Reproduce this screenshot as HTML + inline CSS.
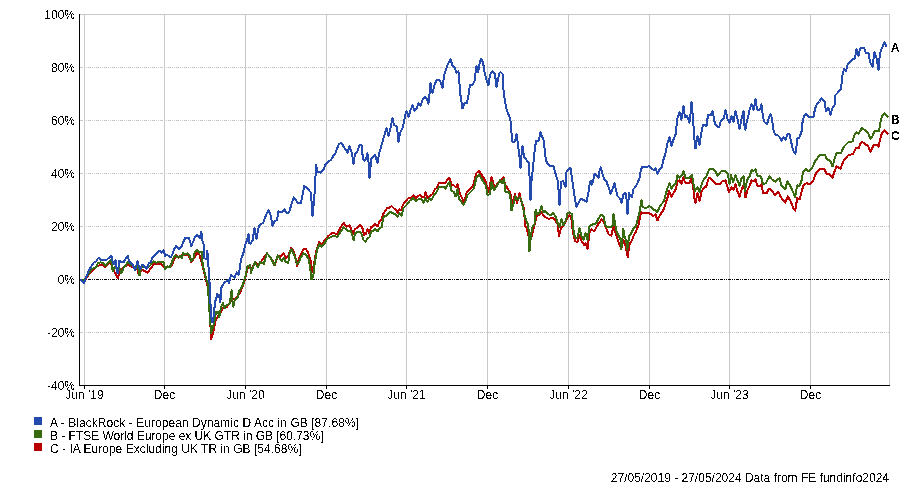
<!DOCTYPE html>
<html><head><meta charset="utf-8"><style>
html,body{margin:0;padding:0;background:#fff;width:900px;height:484px;overflow:hidden;}
svg{display:block;font-family:"Liberation Sans", sans-serif;}
</style></head><body>
<svg width="900" height="484" viewBox="0 0 900 484">
<g shape-rendering="crispEdges">
<line x1="84.5" y1="14" x2="84.5" y2="385" stroke="#c8c8c8" stroke-width="1"/>
<line x1="164.5" y1="14" x2="164.5" y2="385" stroke="#c8c8c8" stroke-width="1"/>
<line x1="245.5" y1="14" x2="245.5" y2="385" stroke="#c8c8c8" stroke-width="1"/>
<line x1="326.5" y1="14" x2="326.5" y2="385" stroke="#c8c8c8" stroke-width="1"/>
<line x1="406.5" y1="14" x2="406.5" y2="385" stroke="#c8c8c8" stroke-width="1"/>
<line x1="487.5" y1="14" x2="487.5" y2="385" stroke="#c8c8c8" stroke-width="1"/>
<line x1="568.5" y1="14" x2="568.5" y2="385" stroke="#c8c8c8" stroke-width="1"/>
<line x1="649.5" y1="14" x2="649.5" y2="385" stroke="#c8c8c8" stroke-width="1"/>
<line x1="729.5" y1="14" x2="729.5" y2="385" stroke="#c8c8c8" stroke-width="1"/>
<line x1="810.5" y1="14" x2="810.5" y2="385" stroke="#c8c8c8" stroke-width="1"/>
<line x1="80" y1="14.5" x2="890" y2="14.5" stroke="#c8c8c8"/>
<line x1="889.5" y1="14" x2="889.5" y2="385" stroke="#c8c8c8"/>
<line x1="80" y1="67.5" x2="889" y2="67.5" stroke="#c8c8c8" stroke-dasharray="3 1 1 1 1 1"/>
<line x1="80" y1="120.5" x2="889" y2="120.5" stroke="#c8c8c8" stroke-dasharray="3 1 1 1 1 1"/>
<line x1="80" y1="173.5" x2="889" y2="173.5" stroke="#c8c8c8" stroke-dasharray="3 1 1 1 1 1"/>
<line x1="80" y1="226.5" x2="889" y2="226.5" stroke="#c8c8c8" stroke-dasharray="3 1 1 1 1 1"/>
<line x1="80" y1="332.5" x2="889" y2="332.5" stroke="#c8c8c8" stroke-dasharray="3 1 1 1 1 1"/>
<line x1="80" y1="279.5" x2="889" y2="279.5" stroke="#000" stroke-dasharray="3 1 1 1 1 1"/>
<line x1="79.5" y1="14" x2="79.5" y2="386" stroke="#000"/>
<line x1="79" y1="385.5" x2="890" y2="385.5" stroke="#000"/>
<line x1="84.5" y1="386" x2="84.5" y2="389" stroke="#000"/>
<line x1="164.5" y1="386" x2="164.5" y2="389" stroke="#000"/>
<line x1="245.5" y1="386" x2="245.5" y2="389" stroke="#000"/>
<line x1="326.5" y1="386" x2="326.5" y2="389" stroke="#000"/>
<line x1="406.5" y1="386" x2="406.5" y2="389" stroke="#000"/>
<line x1="487.5" y1="386" x2="487.5" y2="389" stroke="#000"/>
<line x1="568.5" y1="386" x2="568.5" y2="389" stroke="#000"/>
<line x1="649.5" y1="386" x2="649.5" y2="389" stroke="#000"/>
<line x1="729.5" y1="386" x2="729.5" y2="389" stroke="#000"/>
<line x1="810.5" y1="386" x2="810.5" y2="389" stroke="#000"/>
</g>
<polyline fill="none" stroke="#b90000" stroke-width="2" stroke-linejoin="round" shape-rendering="crispEdges" points="81.0,280.0 84.6,280.5 87.1,277.2 91.2,271.4 97.0,266.5 101.1,264.4 105.3,266.9 110.2,261.5 113.5,269.8 117.7,278.0 121.0,269.8 127.6,264.4 132.5,267.3 137.5,269.0 138.3,273.5 142.4,269.8 147.4,272.7 150.7,268.5 154.0,264.0 157.3,264.0 161.4,264.4 165.0,268.0 167.0,266.5 170.0,267.0 171.4,265.6 174.2,259.8 176.3,254.7 178.5,257.5 181.3,255.3 183.5,255.0 187.7,255.0 190.0,258.0 191.3,262.0 194.3,258.0 196.7,252.7 199.3,254.7 201.3,260.7 204.0,272.0 206.3,281.0 208.0,288.0 209.5,306.0 211.1,339.5 213.6,330.8 215.4,321.0 217.3,317.8 221.0,311.6 223.5,307.3 226.6,307.3 231.6,299.9 235.9,298.6 240.2,292.4 242.7,286.2 245.3,278.0 247.5,268.0 250.0,267.0 251.0,270.7 255.0,262.7 258.3,264.7 261.7,260.7 267.0,253.3 271.0,258.0 275.0,264.7 277.7,255.3 280.3,257.3 283.7,253.3 285.7,258.0 288.3,255.3 291.4,247.7 294.1,251.8 297.3,266.4 299.1,257.7 303.6,249.1 305.9,249.1 308.2,252.7 310.5,260.0 312.3,271.8 314.1,263.6 316.4,250.5 319.1,241.8 321.4,244.1 324.5,240.9 328.3,236.0 332.3,232.7 337.0,234.0 340.3,228.0 343.7,222.7 346.3,226.7 349.7,225.3 353.0,234.0 355.0,229.0 357.5,227.7 360.0,225.3 362.0,226.5 364.1,234.8 365.8,234.4 367.4,229.4 369.1,233.1 371.1,227.3 373.2,226.1 375.3,224.0 377.7,226.5 379.4,221.1 381.5,219.9 383.1,213.7 385.2,211.2 387.3,207.5 389.3,208.0 391.5,206.0 394.0,208.5 396.0,209.5 397.5,213.0 399.5,209.0 401.0,210.5 403.0,204.5 406.0,201.0 408.0,198.5 410.5,198.0 413.5,195.0 416.0,198.0 419.5,195.0 422.5,197.0 424.0,197.5 425.5,192.5 427.5,197.5 430.0,196.0 432.5,194.0 435.0,189.0 437.0,188.0 439.0,182.5 442.0,183.0 445.5,183.0 447.5,179.5 449.5,178.0 451.5,184.5 454.0,185.5 456.0,187.5 457.5,184.0 459.5,192.5 461.5,197.0 463.5,201.5 465.5,197.0 467.0,191.5 470.0,189.0 473.0,186.0 474.5,180.0 476.5,173.0 479.0,171.0 481.0,174.0 484.0,178.5 486.0,182.5 488.0,192.0 490.0,185.0 491.5,177.0 494.0,185.5 495.5,186.5 498.0,182.5 501.0,181.0 503.5,177.0 505.0,184.0 507.5,188.5 510.0,192.0 511.5,199.0 512.5,203.5 515.0,194.0 517.0,203.0 519.5,193.5 521.0,200.0 524.0,208.0 525.0,226.0 526.5,228.0 530.0,242.0 531.5,237.0 533.5,229.0 535.5,221.5 536.5,216.0 540.0,214.5 541.5,212.0 544.0,216.5 549.0,219.0 553.0,217.5 555.0,220.0 557.5,224.0 559.0,236.0 561.0,228.0 565.0,223.5 567.5,217.5 569.5,215.5 571.0,216.0 572.0,224.0 573.0,233.0 575.0,241.0 577.5,242.0 579.0,235.0 581.5,241.0 584.0,245.0 585.5,243.0 587.5,249.0 589.5,233.0 591.5,229.0 594.0,231.5 596.5,227.0 599.0,223.0 601.5,219.5 603.5,221.5 606.7,229.7 608.7,234.3 611.3,235.7 612.7,229.7 613.5,225.0 615.3,231.7 616.7,236.3 618.7,242.3 620.3,246.3 622.0,247.0 623.3,239.7 624.7,242.3 626.3,250.3 627.7,257.0 628.7,249.0 630.0,243.0 632.0,240.3 633.3,236.3 636.0,231.7 638.5,225.0 641.0,212.0 642.5,213.5 649.0,213.0 653.5,216.0 655.5,214.5 657.5,220.5 660.0,215.0 664.0,209.0 666.0,202.0 668.0,196.0 669.0,191.0 671.5,197.0 674.0,192.0 676.0,189.0 677.5,181.0 679.5,180.5 681.5,184.0 683.5,177.0 685.0,182.5 690.0,182.5 691.0,178.5 693.0,185.0 694.5,199.0 695.5,202.5 697.5,193.0 699.5,201.0 701.5,192.0 704.0,187.5 706.0,187.0 709.0,177.5 713.0,181.0 716.5,184.5 720.0,184.0 722.0,181.5 725.5,180.5 729.0,192.0 731.5,187.5 733.5,190.0 735.5,184.5 737.0,190.0 739.5,196.5 742.0,188.0 744.0,184.0 745.5,197.5 747.5,190.0 750.0,185.0 751.5,180.5 754.0,181.5 755.5,179.0 757.0,185.5 760.0,186.5 761.5,184.0 763.0,193.0 766.5,193.5 769.0,188.5 772.0,190.5 775.0,195.5 778.0,192.0 779.5,194.0 780.8,197.3 785.3,202.7 787.8,196.3 790.8,201.7 793.2,208.2 795.2,210.7 797.2,198.3 799.7,199.3 803.2,185.9 806.5,183.0 810.0,184.5 813.5,180.0 816.0,173.0 819.5,169.0 824.5,169.0 826.5,174.0 829.5,174.5 832.5,177.5 835.0,170.0 836.5,166.5 840.5,168.5 844.0,160.0 848.0,155.5 853.0,154.0 856.0,148.0 858.5,148.5 860.5,143.5 862.5,142.0 865.0,144.0 868.0,146.0 870.5,152.0 873.5,145.0 876.0,144.5 878.5,146.5 880.0,139.5 882.0,133.0 884.5,130.0 887.5,133.5 888.5,134.0"/>
<polyline fill="none" stroke="#386b10" stroke-width="2" stroke-linejoin="round" shape-rendering="crispEdges" points="81.0,280.0 84.6,279.7 88.7,273.9 92.0,269.0 96.2,267.3 97.8,263.2 100.3,262.4 102.8,262.8 105.3,265.7 108.6,262.4 111.0,259.9 112.7,271.4 114.8,266.5 116.8,269.0 119.3,267.3 121.4,273.1 123.5,268.1 127.6,262.4 130.9,264.8 135.0,267.3 137.5,264.8 139.5,275.5 141.6,266.4 144.5,267.3 147.4,268.1 150.7,264.8 153.6,261.5 156.4,262.7 159.3,261.9 163.5,261.9 165.2,269.3 167.2,266.4 169.7,267.3 171.4,264.0 173.0,259.0 174.6,255.7 175.3,255.3 177.7,257.3 180.0,256.3 181.7,258.0 183.3,253.0 185.3,254.3 187.7,253.3 189.7,255.7 191.3,261.3 193.3,258.7 194.7,252.0 197.3,250.0 199.3,252.7 201.7,251.7 202.3,261.3 204.0,270.4 206.3,279.0 208.0,285.0 208.9,303.6 210.5,324.7 211.1,333.3 212.3,329.6 214.2,322.2 216.0,312.3 218.0,311.6 219.2,317.2 221.0,307.3 222.9,303.0 224.7,308.5 226.6,305.4 229.7,303.6 231.6,290.0 232.2,298.6 233.4,306.7 234.7,299.9 237.8,296.8 239.0,291.2 241.5,287.5 242.7,285.0 245.3,276.9 247.5,266.0 250.0,265.0 251.0,272.7 255.0,262.0 257.7,267.3 260.3,262.0 263.7,264.0 267.0,253.3 270.3,257.3 274.3,265.3 277.7,255.3 281.7,261.3 283.7,258.0 285.7,262.0 288.3,262.7 290.0,251.0 291.4,249.0 293.6,253.6 295.5,259.0 297.3,264.0 299.1,261.8 300.9,257.3 303.6,253.2 306.4,255.5 308.6,259.0 310.0,266.4 311.4,279.5 313.2,276.4 314.5,264.5 315.9,256.4 317.3,249.0 319.5,244.5 321.4,246.8 324.1,244.1 326.4,240.0 327.7,238.7 333.0,236.0 337.7,236.7 340.3,232.0 343.7,227.3 347.7,230.7 351.0,231.3 353.7,240.0 355.0,233.1 359.1,231.5 361.6,234.0 363.3,239.7 365.3,241.8 367.4,238.5 369.5,237.3 371.1,231.5 373.2,230.6 375.3,229.0 377.3,231.5 379.4,228.6 381.9,226.9 383.1,217.4 386.5,215.5 390.0,211.5 393.5,213.5 395.5,214.0 397.5,217.0 399.5,213.0 401.5,215.5 403.5,208.0 407.0,204.5 410.0,200.5 413.0,198.0 415.5,201.0 419.0,199.0 421.5,199.0 423.5,202.5 425.5,198.5 427.5,201.5 429.5,198.5 431.5,200.0 434.0,195.0 437.0,191.5 439.0,186.5 442.0,186.5 444.0,186.5 445.5,188.5 448.0,184.0 449.5,182.5 451.5,190.5 454.0,192.0 455.5,196.5 457.5,189.5 459.0,198.5 461.5,202.0 463.5,205.0 466.0,200.0 467.5,195.0 470.0,192.5 474.0,188.5 476.5,177.0 479.5,175.0 482.0,179.5 486.0,186.0 487.5,195.0 490.0,194.0 491.5,182.5 494.0,190.0 498.0,184.0 500.0,180.0 502.0,183.0 504.0,179.0 505.5,192.0 509.0,192.0 510.5,199.0 511.5,210.5 513.5,204.0 515.5,196.0 517.5,199.5 519.5,197.0 521.5,201.0 523.0,208.0 524.5,215.0 526.0,220.0 528.0,224.5 529.0,234.0 529.5,251.5 531.0,235.0 532.5,227.0 534.5,224.0 535.0,213.0 536.0,210.0 537.0,214.5 539.5,212.5 541.5,206.0 543.0,212.5 545.0,211.0 548.0,214.0 550.5,215.0 553.5,213.0 556.0,217.5 558.0,224.0 559.5,227.0 561.5,219.5 563.5,225.5 566.0,220.0 567.5,213.5 569.5,212.5 572.0,214.0 573.0,225.0 574.0,234.0 575.5,238.0 577.5,237.5 579.5,228.5 581.5,236.0 583.5,239.5 585.5,233.0 587.5,240.0 589.5,226.0 592.5,224.5 596.0,223.5 598.5,218.5 600.0,216.0 601.5,215.0 603.5,216.5 605.3,225.0 607.3,227.0 610.7,227.0 612.7,225.0 613.5,214.0 615.0,223.0 616.7,231.7 618.7,235.7 620.7,240.3 621.3,249.0 622.3,240.3 623.3,229.0 624.3,235.7 626.3,241.0 627.3,249.7 628.3,242.3 629.0,236.3 630.7,234.3 632.3,231.0 633.3,228.3 636.0,226.0 638.0,218.0 640.0,210.0 641.5,200.0 642.5,207.0 646.0,208.0 649.5,206.0 653.0,209.0 657.5,212.0 660.0,206.0 662.0,203.5 664.0,201.0 665.5,195.0 667.5,188.0 669.5,183.5 671.5,188.5 674.0,185.0 676.0,183.0 677.5,175.0 679.5,177.5 681.5,176.0 683.5,171.5 685.5,177.5 689.5,177.5 692.0,175.0 693.5,184.0 695.0,191.0 697.5,187.0 699.5,192.0 702.0,183.0 704.0,179.0 706.5,176.0 709.0,169.5 712.5,169.0 715.0,170.5 717.5,175.5 721.0,171.5 725.5,171.0 728.0,174.5 729.5,184.0 731.0,175.0 733.0,182.0 735.5,175.5 739.5,185.5 741.5,178.5 743.5,176.0 745.0,191.0 747.0,180.0 750.0,175.5 751.5,170.0 753.5,171.0 755.5,169.5 757.5,176.0 761.0,176.5 763.0,184.5 766.0,183.0 769.5,176.5 772.0,179.5 775.5,181.5 779.5,178.0 781.3,185.4 785.3,189.3 787.3,181.4 789.8,184.9 792.7,191.3 795.2,197.3 797.2,185.4 799.7,185.9 801.7,179.9 803.0,172.0 805.5,169.0 809.0,171.5 812.5,167.0 815.0,161.5 819.5,155.0 825.0,155.0 827.0,159.5 830.5,161.0 832.5,166.5 835.0,157.0 837.0,152.5 841.0,153.0 844.0,146.5 848.5,142.0 852.5,141.5 854.5,135.0 856.5,132.5 858.5,133.5 862.0,128.0 866.0,131.0 868.5,134.0 870.5,139.0 872.5,136.0 874.5,131.0 879.0,131.5 880.0,124.0 882.0,116.0 884.5,113.5 887.0,115.5 888.5,117.5"/>
<polyline fill="none" stroke="#234aac" stroke-width="2" stroke-linejoin="round" shape-rendering="crispEdges" points="80.5,279.5 83.8,283.0 86.3,277.2 88.7,270.6 91.2,266.5 93.7,262.8 96.2,261.5 97.8,258.6 99.5,257.8 101.1,260.3 106.1,260.3 109.4,257.4 111.5,255.7 112.7,262.4 114.2,264.5 115.6,259.9 116.8,269.8 117.7,273.1 119.3,260.7 121.0,262.4 123.5,262.4 125.5,259.0 127.6,255.7 129.2,261.5 132.5,264.0 135.0,270.6 137.5,261.5 139.1,267.3 140.3,269.3 142.0,264.8 143.6,265.2 146.5,268.5 149.0,263.1 150.7,262.3 152.3,257.8 155.6,254.5 159.3,250.7 161.4,252.8 163.5,249.9 165.2,256.0 167.2,254.9 170.5,257.4 172.1,255.3 174.2,249.1 176.3,246.0 179.3,249.3 181.7,246.3 183.3,241.7 185.3,238.0 189.0,238.0 191.3,246.0 193.3,241.3 195.3,236.3 197.3,235.0 199.7,238.0 201.3,231.7 202.7,242.0 203.7,244.7 204.0,258.0 206.7,259.3 207.3,250.7 208.3,261.3 209.0,279.0 209.9,285.0 210.5,303.6 211.7,322.2 213.0,322.2 214.2,309.8 215.4,301.1 217.3,293.7 218.5,297.4 219.8,295.0 220.4,302.3 221.0,288.7 222.3,285.6 224.7,282.3 228.0,280.0 229.0,283.4 231.2,274.7 234.5,278.0 236.6,272.5 238.8,274.7 241.0,259.5 244.2,250.8 244.7,246.3 246.7,241.0 248.5,234.0 249.3,243.0 250.5,243.5 252.5,240.5 254.5,228.5 255.5,234.0 256.5,238.5 258.5,228.0 260.0,224.5 263.0,223.0 265.0,218.0 266.5,214.0 268.5,210.0 271.0,216.5 272.5,226.0 274.5,221.5 277.0,220.0 278.5,211.5 282.0,212.0 284.5,209.5 286.5,213.0 289.0,212.5 291.0,206.0 292.5,201.0 293.7,197.3 297.7,202.7 301.0,202.7 304.3,186.0 307.7,188.7 311.0,192.7 312.5,216.0 313.5,206.0 314.3,198.0 315.0,184.0 316.3,164.7 317.0,171.3 320.3,172.7 323.7,169.3 325.7,164.0 328.3,161.3 331.0,160.0 333.7,155.3 335.0,154.0 337.0,149.0 339.0,143.8 341.5,143.0 344.5,148.0 347.5,152.5 349.5,146.5 352.0,153.5 353.5,164.0 355.0,154.0 357.5,151.0 359.5,145.0 361.5,145.0 363.0,159.0 364.5,161.0 366.0,159.5 367.5,153.5 368.5,162.0 369.5,178.0 370.5,167.0 371.5,158.5 375.0,154.5 377.5,163.0 379.0,154.0 381.0,147.0 383.0,140.0 385.0,133.0 386.5,128.0 388.5,135.5 390.5,128.0 392.5,118.0 394.0,125.0 397.0,126.5 398.5,142.0 400.0,133.0 403.0,127.0 405.0,116.0 406.5,111.0 408.5,117.0 410.5,110.0 412.5,105.5 414.5,110.5 416.5,108.5 418.5,103.5 420.5,105.5 422.5,100.0 424.5,97.0 426.5,98.5 428.5,103.5 429.5,94.0 430.5,83.0 431.5,90.5 432.5,93.0 434.5,85.0 436.5,80.0 440.0,80.5 442.5,88.0 444.0,76.0 446.0,69.0 448.0,64.0 450.5,59.5 452.5,65.5 454.5,67.5 456.5,72.5 458.5,71.5 459.5,84.0 460.0,92.0 461.5,102.0 462.5,108.5 464.5,103.5 467.0,103.0 468.5,95.0 470.0,85.0 472.5,85.0 474.5,81.0 476.5,66.0 478.0,72.5 479.5,64.0 481.0,59.0 483.0,62.0 484.5,72.0 486.5,80.0 488.5,85.5 490.0,75.0 492.5,71.0 495.0,74.0 496.5,87.0 498.0,79.0 499.5,73.0 500.5,72.0 502.5,74.0 503.0,84.0 504.0,95.0 505.0,101.0 506.0,107.0 507.5,112.0 509.5,117.0 510.5,121.0 511.0,130.0 512.0,135.0 512.5,141.5 515.0,141.5 516.5,134.0 517.5,141.0 519.0,153.0 520.0,160.0 520.5,168.0 521.5,155.0 522.5,146.0 524.0,157.0 526.5,160.0 529.0,163.0 529.5,176.0 530.5,200.0 531.5,181.0 532.5,172.0 533.5,162.0 534.5,152.0 536.0,141.0 537.5,141.5 539.0,140.0 540.5,132.0 542.0,136.0 543.5,140.0 545.0,152.0 546.0,161.0 549.0,165.5 553.5,166.0 555.0,172.0 556.0,175.0 558.0,182.0 559.5,205.0 561.0,182.0 563.0,181.0 565.5,187.0 566.5,172.0 568.5,169.0 570.5,168.0 571.5,175.0 573.0,185.0 575.0,200.0 576.5,206.5 579.0,202.0 581.0,198.5 583.5,200.0 586.5,201.5 588.0,195.0 589.7,184.0 590.7,180.7 591.7,184.7 593.0,182.0 594.0,176.0 594.7,173.7 596.3,175.0 598.7,177.7 599.7,170.0 600.7,167.3 602.0,171.7 603.3,176.7 604.7,179.7 606.7,182.0 608.0,186.0 609.3,189.3 610.5,194.0 612.5,189.0 614.5,183.0 616.0,190.0 617.5,196.0 619.5,198.0 621.5,202.5 623.5,194.5 625.5,193.0 627.0,202.0 627.5,214.0 629.0,193.0 630.5,196.0 632.0,197.0 633.5,189.0 635.0,187.5 637.5,183.0 639.5,178.0 640.5,172.0 642.0,167.0 647.0,167.0 649.5,166.0 651.5,169.0 654.0,170.0 655.5,168.5 657.5,174.0 659.5,169.5 662.0,167.0 663.0,161.0 665.0,155.0 666.5,148.0 668.0,141.0 669.5,137.5 671.5,145.5 673.5,139.5 676.0,133.5 676.5,126.0 677.5,118.0 679.5,112.5 681.5,119.5 683.5,106.0 685.0,117.5 687.0,116.0 689.5,122.5 690.5,114.0 691.5,102.0 692.5,113.0 694.0,132.0 694.5,140.0 695.5,148.5 697.5,136.0 699.5,145.0 701.0,135.0 703.0,124.5 706.5,126.0 708.0,115.0 710.5,115.5 712.5,111.0 715.0,124.0 719.0,127.5 721.0,120.5 724.0,118.0 725.5,110.0 727.5,119.0 729.5,122.5 731.5,116.5 733.5,122.0 735.5,111.0 737.5,119.0 739.5,129.0 741.5,119.0 743.5,111.0 744.5,126.0 745.5,129.5 746.5,123.0 748.0,117.0 749.5,110.0 751.5,104.0 753.5,110.0 755.5,99.5 757.0,109.5 760.0,109.5 761.5,104.5 762.5,113.0 764.0,121.5 767.0,124.5 769.0,117.0 770.5,114.5 772.0,118.0 773.0,127.0 773.5,130.0 775.0,134.5 778.0,135.5 780.0,137.5 781.5,140.5 783.5,137.5 785.5,139.5 787.5,134.0 789.5,134.5 791.0,141.0 792.5,148.0 794.0,152.0 795.5,153.5 796.5,146.0 797.5,138.0 799.0,138.5 800.5,134.5 802.0,130.0 802.5,122.5 804.0,116.0 806.0,113.5 808.5,116.5 810.0,117.0 813.5,116.5 815.0,109.0 816.5,105.0 819.5,101.5 821.5,98.0 824.5,101.5 826.0,111.5 827.5,108.0 829.0,109.0 830.5,114.5 832.0,109.0 834.5,105.0 835.5,95.0 837.5,93.0 841.0,89.0 841.5,84.0 842.5,75.0 844.0,69.0 846.0,71.0 847.5,65.0 850.0,62.0 852.5,59.0 855.0,58.5 856.5,49.0 858.5,56.0 860.0,48.5 864.0,48.0 866.0,53.0 868.5,53.5 870.0,62.0 872.5,67.0 874.5,52.0 876.5,58.0 878.5,70.0 880.0,53.0 882.0,48.0 884.5,42.0 886.5,47.0"/>
<defs><filter id="bin" x="0" y="0" width="100%" height="100%" color-interpolation-filters="sRGB"><feComponentTransfer><feFuncA type="discrete" tableValues="0 1"/></feComponentTransfer></filter></defs>
<g font-family="Liberation Sans, sans-serif" font-size="12" fill="#000" filter="url(#bin)">
<text x="75" y="18.5" text-anchor="end">100%</text>
<text x="75" y="71.5" text-anchor="end">80%</text>
<text x="75" y="124.5" text-anchor="end">60%</text>
<text x="75" y="177.5" text-anchor="end">40%</text>
<text x="75" y="230.5" text-anchor="end">20%</text>
<text x="75" y="283.5" text-anchor="end">0%</text>
<text x="75" y="336.5" text-anchor="end">-20%</text>
<text x="75" y="389.5" text-anchor="end">-40%</text>
<text x="84.5" y="399" text-anchor="middle">Jun '19</text>
<text x="164.5" y="399" text-anchor="middle">Dec</text>
<text x="245.5" y="399" text-anchor="middle">Jun '20</text>
<text x="326.5" y="399" text-anchor="middle">Dec</text>
<text x="406.5" y="399" text-anchor="middle">Jun '21</text>
<text x="487.5" y="399" text-anchor="middle">Dec</text>
<text x="568.5" y="399" text-anchor="middle">Jun '22</text>
<text x="649.5" y="399" text-anchor="middle">Dec</text>
<text x="729.5" y="399" text-anchor="middle">Jun '23</text>
<text x="810.5" y="399" text-anchor="middle">Dec</text>
<text x="891" y="52" font-weight="bold">A</text>
<text x="891" y="124" font-weight="bold">B</text>
<text x="891" y="140" font-weight="bold">C</text>
<rect x="34" y="417" width="8" height="8" fill="#234aac"/>
<text x="50" y="427" textLength="309" lengthAdjust="spacing">A - BlackRock - European Dynamic D Acc in GB [87.68%]</text>
<rect x="34" y="430" width="8" height="8" fill="#386b10"/>
<text x="50" y="440" textLength="273.5" lengthAdjust="spacing">B - FTSE World Europe ex UK GTR in GB [60.73%]</text>
<rect x="34" y="443" width="8" height="8" fill="#b90000"/>
<text x="50" y="453" textLength="251.5" lengthAdjust="spacing">C - IA Europe Excluding UK TR in GB [54.68%]</text>
<text x="889" y="482" text-anchor="end">27/05/2019 - 27/05/2024 Data from FE fundinfo2024</text>
</g>
</svg>
</body></html>
